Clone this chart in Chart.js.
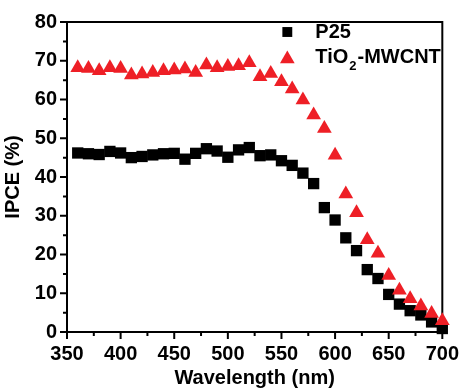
<!DOCTYPE html>
<html lang="en">
<head>
  <meta charset="UTF-8">
  <title>IPCE spectra</title>
  <script src="https://cdn.jsdelivr.net/npm/chart.js"></script>
  <style>
    html, body { margin: 0; padding: 0; background: #fff; }
    canvas { display: block; }
  </style>
</head>
<body>
  <canvas id="chart" width="469" height="390"></canvas>

  <script>
    // wavelength (nm) and IPCE (%)
    const wavelengths = [360, 370, 380, 390, 400, 410, 420, 430, 440, 450, 460, 470, 480, 490, 500, 510, 520, 530,
                         540, 550, 560, 570, 580, 590, 600, 610, 620, 630, 640, 650, 660, 670, 680, 690, 700];
    const p25 = [46.2, 46.0, 45.8, 46.6, 46.2, 45.0, 45.3, 45.7, 46.0, 46.1, 44.6, 46.1, 47.3, 46.7, 45.1, 47.0, 47.6, 45.5,
                 45.7, 44.2, 43.0, 41.0, 38.3, 32.1, 28.9, 24.3, 21.0, 16.1, 13.8, 9.7, 7.2, 5.5, 4.4, 2.6, 0.9];
    const tio2Mwcnt = [68.2, 68.0, 67.4, 68.2, 68.0, 66.3, 66.6, 67.0, 67.4, 67.6, 67.9, 67.0, 68.9, 68.2, 68.5, 68.7, 69.5, 65.9,
                       66.7, 64.6, 62.7, 59.9, 56.0, 52.5, 45.6, 35.6, 30.8, 23.8, 20.3, 14.6, 10.8, 8.6, 6.7, 4.8, 2.9];
    const seriesNames = ['P25', 'TiO2-MWCNT'];

    const font = { family: "'Liberation Sans', Arial, sans-serif", weight: 'bold', size: 20 };
    const ink = '#000';

    const toPoints = (ys) => wavelengths.map((x, i) => ({ x: x, y: ys[i] }));

    // box around the plot + outward major/minor ticks
    const frameTicks = {
      id: 'frameTicks',
      beforeDatasetsDraw(chart) {
        const { ctx, chartArea: a, scales: { x, y } } = chart;
        ctx.save();
        ctx.strokeStyle = ink;
        ctx.lineWidth = 2;
        ctx.strokeRect(a.left, a.top, a.right - a.left, a.bottom - a.top);
        ctx.beginPath();
        for (let v = x.min; v <= x.max; v += 25) {
          const px = x.getPixelForValue(v);
          ctx.moveTo(px, a.bottom);
          ctx.lineTo(px, a.bottom + (v % 50 === 0 ? 7 : 4));
        }
        for (let v = y.min; v <= y.max; v += 5) {
          const py = y.getPixelForValue(v);
          ctx.moveTo(a.left, py);
          ctx.lineTo(a.left - (v % 10 === 0 ? 7 : 4), py);
        }
        ctx.stroke();
        ctx.restore();
      }
    };

    // legend in the top right corner of the plot
    const cornerLegend = {
      id: 'cornerLegend',
      afterDatasetsDraw(chart) {
        const { ctx, chartArea: a } = chart;
        ctx.save();
        chart.data.datasets.forEach((ds, i) => {
          const mx = a.right - 155;
          const my = a.top + 10 + i * 25;
          ctx.fillStyle = ds.backgroundColor;
          Chart.helpers.drawPoint(ctx, { pointStyle: ds.pointStyle, radius: ds.legendRadius, rotation: 0, borderWidth: 0 }, mx, my + (ds.pointStyle === 'triangle' ? 2 : 0));
          ctx.fillStyle = ink;
          ctx.textBaseline = 'middle';
          ctx.font = `bold ${font.size}px ${font.family}`;
          let tx = mx + 28;
          if (ds.label === 'TiO2-MWCNT') {
            ctx.fillText('TiO', tx, my);
            tx += ctx.measureText('TiO').width + 1;
            ctx.font = `bold 13px ${font.family}`;
            ctx.fillText('2', tx, my + 9);
            tx += ctx.measureText('2').width + 1;
            ctx.font = `bold ${font.size}px ${font.family}`;
            ctx.fillText('-MWCNT', tx, my);
          } else {
            ctx.fillText(ds.label, tx, my);
          }
        });
        ctx.restore();
      }
    };

    new Chart(document.getElementById('chart'), {
      type: 'scatter',
      data: {
        datasets: [
          {
            label: seriesNames[0],
            data: toPoints(p25),
            pointStyle: 'rect',
            pointRadius: 8,
            legendRadius: 7,
            backgroundColor: '#000',
            borderWidth: 0,
            clip: false,
            order: 1
          },
          {
            label: seriesNames[1],
            data: toPoints(tio2Mwcnt),
            pointStyle: 'triangle',
            pointRadius: 8.5,
            legendRadius: 8.5,
            backgroundColor: '#ee1f26',
            borderWidth: 0,
            clip: false,
            order: 0
          }
        ]
      },
      options: {
        responsive: false,
        animation: false,
        layout: { padding: { top: 20, right: 19, left: 0, bottom: 0 } },
        plugins: { legend: { display: false }, tooltip: { enabled: false } },
        scales: {
          x: {
            type: 'linear',
            min: 350,
            max: 700,
            grid: { display: false, drawTicks: false },
            border: { display: false },
            ticks: { stepSize: 50, padding: 10, color: ink, font: font, maxRotation: 0 },
            title: { display: true, text: 'Wavelength (nm)', color: ink, font: font, padding: 0 },
            afterFit(s) { s.height = 58; }
          },
          y: {
            min: 0,
            max: 80,
            grid: { display: false, drawTicks: false },
            border: { display: false },
            ticks: { stepSize: 10, padding: 10, color: ink, font: font },
            title: { display: true, text: 'IPCE (%)', color: ink, font: font, padding: { top: 1, bottom: 0 } },
            afterFit(s) { s.width = 67; }
          }
        }
      },
      plugins: [frameTicks, cornerLegend]
    });
  </script>
</body>
</html>
